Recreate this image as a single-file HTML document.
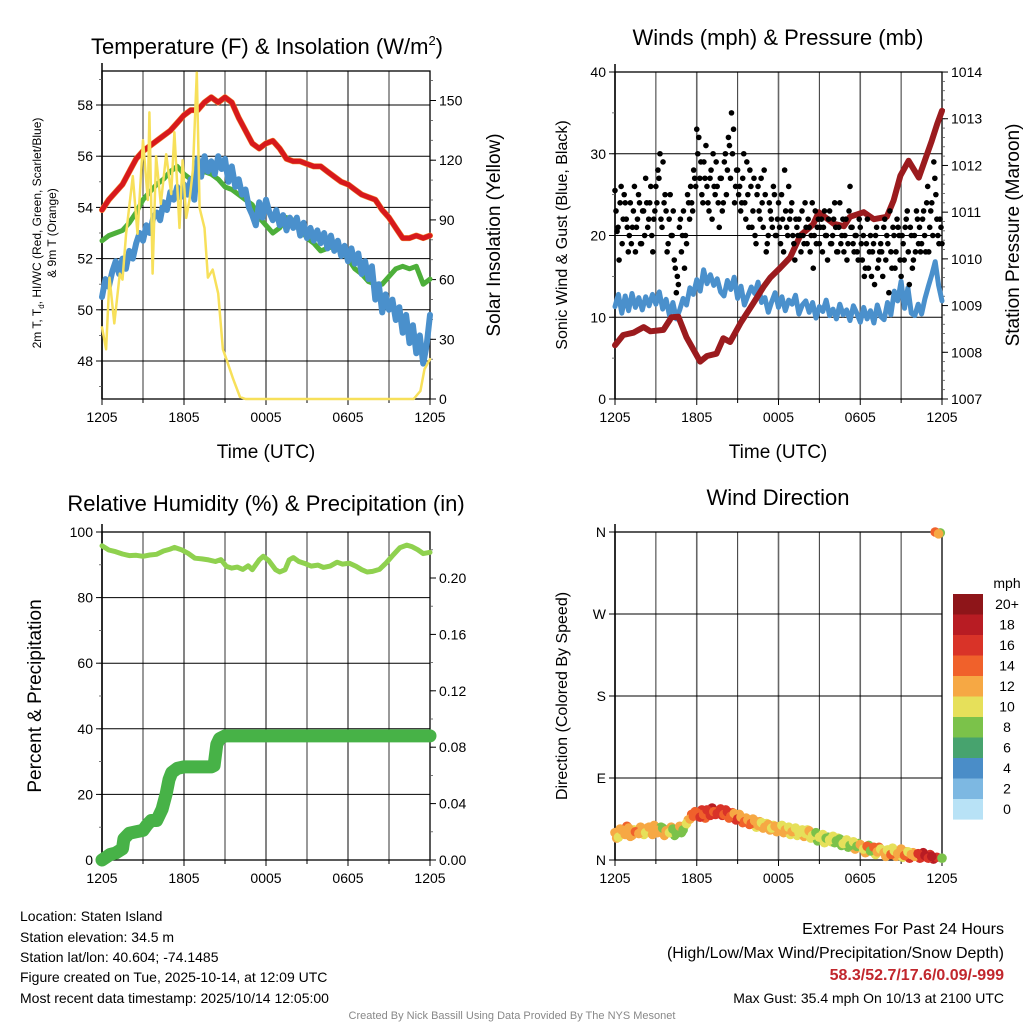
<!DOCTYPE html>
<html><head><meta charset="utf-8"><style>
body{margin:0;background:#fff;}
svg{display:block;font-family:"Liberation Sans",sans-serif;}
</style></head><body>
<svg id="s" width="1024" height="1024" xmlns="http://www.w3.org/2000/svg">
<g id="g"></g>
<g fill="#000">
<text x="267" y="54" font-size="22" text-anchor="middle">Temperature (F) &amp; Insolation (W/m<tspan font-size="13" dy="-9">2</tspan><tspan dy="9">)</tspan></text>
<text x="778" y="45" font-size="22" text-anchor="middle">Winds (mph) &amp; Pressure (mb)</text>
<text x="266" y="511" font-size="22" text-anchor="middle">Relative Humidity (%) &amp; Precipitation (in)</text>
<text x="778" y="505" font-size="22" text-anchor="middle">Wind Direction</text>
<text x="266" y="458" font-size="19" text-anchor="middle">Time (UTC)</text>
<text x="778" y="458" font-size="19" text-anchor="middle">Time (UTC)</text>
<text transform="translate(41,233) rotate(-90)" font-size="12" text-anchor="middle">2m T, T<tspan font-size="8" dy="3">d</tspan><tspan dy="-3">, HI/WC (Red, Green, Scarlet/Blue)</tspan></text>
<text transform="translate(56,233) rotate(-90)" font-size="12" text-anchor="middle">&amp; 9m T (Orange)</text>
<text transform="translate(500,235) rotate(-90)" font-size="19" text-anchor="middle">Solar Insolation (Yellow)</text>
<text transform="translate(567,235) rotate(-90)" font-size="16" text-anchor="middle">Sonic Wind &amp; Gust (Blue, Black)</text>
<text transform="translate(1019,235) rotate(-90)" font-size="19" text-anchor="middle">Station Pressure (Maroon)</text>
<text transform="translate(41,696) rotate(-90)" font-size="19" text-anchor="middle">Percent &amp; Precipitation</text>
<text transform="translate(567,696) rotate(-90)" font-size="16" text-anchor="middle">Direction (Colored By Speed)</text>
</g>
<g font-size="14" fill="#000">
<text x="20" y="921">Location: Staten Island</text>
<text x="20" y="942">Station elevation: 34.5 m</text>
<text x="20" y="962">Station lat/lon: 40.604; -74.1485</text>
<text x="20" y="982">Figure created on Tue, 2025-10-14, at 12:09 UTC</text>
<text x="20" y="1003">Most recent data timestamp: 2025/10/14 12:05:00</text>
</g>
<g text-anchor="end">
<text x="1004" y="934" font-size="16">Extremes For Past 24 Hours</text>
<text x="1004" y="958" font-size="16">(High/Low/Max Wind/Precipitation/Snow Depth)</text>
<text x="1004" y="980" font-size="16" font-weight="bold" fill="#c1272d">58.3/52.7/17.6/0.09/-999</text>
<text x="1004" y="1003" font-size="14">Max Gust: 35.4 mph On 10/13 at 2100 UTC</text>
</g>
<text x="512" y="1019" font-size="11" fill="#888" text-anchor="middle">Created By Nick Bassill Using Data Provided By The NYS Mesonet</text>
</svg>
<script>
const xLabels=["1205","1805","0005","0605","1205"];
const redT=[53.9,54.3,54.6,54.9,55.4,55.9,56.2,56.4,56.6,56.8,57.0,57.3,57.6,57.8,57.8,58.1,58.3,58.1,58.3,58.1,57.5,57.0,56.5,56.3,56.5,56.6,56.3,55.9,55.8,55.8,55.7,55.6,55.6,55.4,55.2,55.0,54.9,54.7,54.5,54.4,54.3,53.9,53.6,53.2,52.8,52.8,52.9,52.8,52.9];
const greenT=[52.7,52.9,53.0,53.1,53.4,53.8,54.3,54.6,54.9,55.1,55.4,55.6,55.3,55.1,55.2,55.4,55.3,55.1,54.8,54.7,54.5,54.3,54.1,53.6,53.3,53.0,53.2,53.6,53.5,53.2,52.8,52.6,52.3,52.4,52.5,52.3,52.0,51.6,51.4,51.1,51.0,51.0,51.3,51.6,51.7,51.6,51.7,51.0,51.2];
const blueT=[50.5,51.2,50.9,51.5,51.9,51.4,52.0,51.6,52.3,52.0,52.6,53.0,52.7,53.3,53.0,53.6,53.8,53.5,54.2,53.9,54.6,54.3,54.8,54.4,54.9,54.5,55.1,54.3,55.9,55.2,56.0,55.4,55.8,55.3,56.0,55.5,55.9,55.0,55.6,54.8,55.1,54.5,54.7,54.0,53.7,53.3,54.2,53.6,54.3,53.8,53.5,53.9,53.3,53.7,53.1,53.6,53.2,53.6,52.9,53.4,52.8,53.2,52.7,53.1,52.6,53.0,52.4,52.9,52.3,52.7,52.1,52.5,51.9,52.4,51.8,52.2,51.4,51.9,51.2,51.7,50.4,51.0,49.9,50.6,50.0,50.4,49.6,50.1,49.1,49.8,48.7,49.4,48.3,49.0,47.9,48.6,49.8];
const solarHours=[0,0.3,0.55,0.9,1.3,1.5,1.76,2.25,2.6,3.0,3.35,3.47,3.7,3.96,4.3,4.7,5.06,5.3,5.67,5.9,6.16,6.4,6.65,6.94,7.14,7.5,7.75,8.1,8.5,8.85,9.1,9.6,10.1,10.5,22.8,23.3,23.6,24];
const solarVals=[36,25,61,38,63,60,83,112,83,130,100,144,63,122,98,123,103,134,86,120,91,100,115,164,96,86,61,65,53,25,20,10,1,0,0,4,15,20];
const windVals=[11.3,12.8,10.5,12.6,10.8,12.9,11.2,12.4,10.9,12.5,11.4,12.8,11.6,13.1,11.0,12.2,10.2,11.8,9.8,10.9,12.3,11.5,13.6,12.8,14.6,13.2,15.8,14.1,15.2,13.9,14.7,13.1,12.6,14.5,13.4,14.9,12.3,13.8,11.5,12.6,13.7,12.9,14.3,11.8,12.4,10.6,11.9,13.0,11.2,12.5,10.8,12.1,11.6,12.7,10.4,11.5,12.0,10.6,11.8,9.9,11.3,10.7,12.1,10.2,11.0,9.8,11.6,10.3,10.9,9.6,11.4,10.5,9.4,11.2,9.8,10.8,9.3,11.5,10.1,9.7,11.8,10.3,13.2,12.0,14.4,11.1,13.6,10.5,10.2,11.6,10.4,12.3,13.8,15.2,16.8,13.9,12.0];
const gustA=[25.5,20.5,17,26,22,24,21,20,19,23,18,22,24,19,23,27,21,24,20,22,26,28,30,21,24,23,19,25,20,17,13,14,22,20,16,19,24,26,23,27,33,32,29,24,27,26,23,28,30,25,26,21,27,24,30,28,31,35,33,26,28,26,24,30,22,25,28,21,27,19,26,22,24,28,18,20,23,21,25,20,24,19,22,28,21,26,23,20,17,21,22,18,20,24,19,21,20,16,23,21,19,22,21,20,17,23,19,22,21,18,24,20,18,22,19,26,21,18,20,17,21,17,15,19,16,20,18,14,21,17,19,15,22,20,13,18,21,16,22,20,15,19,21,23,14,20,17,18,22,21,19,23,18,26,21,24,29,25,20,22,19];
const gustB=[23,21,24,19,25,22,18,24,21,26,21,25,19,23,20,24,22,26,18,23,24,27,22,29,25,18,22,20,23,16,15,21,18,23,20,25,22,24,28,26,30,27,25,29,31,24,27,22,26,29,24,27,23,29,25,32,27,30,24,28,25,23,27,24,29,21,26,23,20,25,23,27,21,25,19,24,22,26,20,22,21,25,18,23,20,22,24,19,22,20,20,23,19,21,22,18,24,20,19,22,21,18,23,20,22,19,20,24,18,21,19,22,20,17,23,21,19,20,18,22,19,20,16,22,18,15,19,20,16,18,18,21,17,19,23,16,20,18,21,17,20,17,22,18,21,16,20,23,19,18,22,20,24,18,23,20,27,22,19,21];
const presHours=[0,0.6,1.35,2.1,2.6,3.55,4.15,4.65,5.25,6.25,6.75,7.45,7.95,8.45,9.2,10.15,10.9,11.4,12.1,12.85,13.6,14.55,14.95,16.05,16.8,17.25,18.25,19.0,19.95,20.45,20.95,21.55,22.3,22.8,23.25,23.65,24];
const presVals=[1008.15,1008.37,1008.42,1008.54,1008.45,1008.48,1008.75,1008.76,1008.32,1007.8,1007.92,1007.97,1008.3,1008.22,1008.62,1009.05,1009.4,1009.6,1009.8,1010.03,1010.5,1010.74,1011.0,1010.75,1010.7,1010.9,1011.0,1010.85,1010.9,1011.25,1011.78,1012.1,1011.74,1012.16,1012.53,1012.89,1013.17];
const rhHours=[0,0.5,1,1.5,2,2.5,3,3.5,4,4.5,5,5.3,5.8,6.3,6.8,7.3,7.8,8.3,8.7,9.1,9.5,9.9,10.3,10.7,11.0,11.5,11.8,12.2,12.7,13.0,13.4,13.7,14.0,14.4,14.9,15.3,15.8,16.2,16.7,17.2,17.6,18.1,18.6,19.0,19.4,19.8,20.3,20.8,21.3,21.8,22.3,22.7,23.1,23.5,24];
const rhVals=[95.8,94.5,94,93.3,92.8,92.9,92.6,93.0,93.2,94.2,94.8,95.3,94.6,93.5,92.0,91.8,91.5,91.0,91.6,89.5,89.0,89.3,88.6,89.7,88.5,91.5,92.6,91.3,88.5,87.8,88.5,91.5,92.2,91.0,90.3,89.6,89.9,89.2,89.6,90.8,90.2,90.5,89.5,88.5,87.8,88.0,88.6,90.6,93.0,95.2,96.0,95.5,94.6,93.4,93.8];
const precipHours=[0,0.3,0.6,1.0,1.5,1.6,2.0,2.5,3.0,3.3,3.6,4.0,4.4,4.7,4.9,5.1,5.5,6.0,7.0,8.0,8.2,8.4,8.6,9.0,24];
const precipVals=[0,0.002,0.004,0.005,0.008,0.015,0.019,0.020,0.021,0.025,0.028,0.028,0.036,0.047,0.057,0.062,0.065,0.066,0.066,0.066,0.067,0.082,0.086,0.088,0.088];
const dirVals=[30,25,33,28,35,27,31,29,34,30,36,28,33,31,35,32,30,34,29,37,33,40,45,48,52,47,50,55,49,53,51,56,50,53,48,51,45,47,42,44,40,43,38,41,36,39,35,37,34,38,33,36,31,35,30,33,29,32,27,30,25,28,24,22,26,21,23,18,22,16,20,15,17,12,15,10,14,9,12,8,11,6,10,7,12,5,9,6,4,7,3,5,2,4,360,358,2];
const spdVals=[12,11,12,13,12,12,15,12,12,11,12,12,13,12,9,12,10,8,8,12,9,11,13,14,15,16,14,17,16,15,17,16,15,16,14,13,16,13,15,13,14,12,13,11,12,13,10,12,12,10,12,11,12,10,11,10,11,12,10,9,11,10,8,10,10,9,8,10,11,8,10,9,12,10,14,9,15,12,10,13,11,14,10,13,12,15,10,12,13,16,17,18,17,18,14,12,9];
const dirValsB=[24,34,29,37,26,33,30,36,28,35,31,38,30,36,27,33,36,27,33,30,38,44,50,53,48,55,46,52,57,50,54,49,55,46,52,44,50,41,46,39,45,36,42,35,40,33,38,31,37,30,35,28,33,27,31,26,33,24,29,21,27,19,25,20,19,24,16,21,14,19,12,18,13,8,16,11,6,14,10,4,8,13,4,10,3,9,2,8,6,2,8,3,6,1,3,359];
const spdValsB=[13,12,11,14,12,10,12,13,11,12,9,12,12,8,12,11,12,9,10,8,11,12,14,15,16,17,15,14,18,16,15,17,16,14,15,16,13,14,12,14,13,11,12,12,10,12,11,12,11,12,10,11,12,11,10,12,10,11,12,8,10,11,9,10,9,10,8,11,9,10,12,9,11,13,9,12,10,14,11,12,13,10,12,15,11,13,16,12,15,17,18,16,17,19,16,9];
const cbLabels=["20+","18","16","14","12","10","8","6","4","2","0"];
const cbColors=["#8e1519","#b81c23","#d93328","#f0612b","#f6a844","#e6e05a","#7bc24a","#47a36e","#4a8dc8","#7db8e2","#b8e2f6"];
const tempTicks=[48,50,52,54,56,58],solarTicks=[0,30,60,90,120,150],windTicks=[0,10,20,30,40],presTicks=[1007,1008,1009,1010,1011,1012,1013,1014],rhTicks=[0,20,40,60,80,100],prTicks=["0.00","0.04","0.08","0.12","0.16","0.20"],dirTicks=["N","E","S","W","N"];

const NS="http://www.w3.org/2000/svg";
const G=document.getElementById('g');
function mk(t,a,p){const e=document.createElementNS(NS,t);for(const k in a)e.setAttribute(k,a[k]);(p||G).appendChild(e);return e;}
function panel(x0,x1,y0,y1){return{x0,x1,y0,y1,x:h=>x0+h*(x1-x0)/24};}
const P1=panel(102,430,71,399),P2=panel(615,942,72,399),P3=panel(102,430,532,860),P4=panel(615,942,532,860);
const yT=v=>105+(58-v)*25.6, yS=v=>399-v*1.99, yW=v=>399-v*8.175, yP=v=>399-(v-1007)*46.71;
const yR=v=>860-v*3.28, yPr=v=>860-v*1410, yD=v=>860-v*0.9111;

function frame(P,hy,name){
  const g=mk('g',{});
  
  
  for(let i=1;i<8;i++){const x=P.x(i*3);mk('line',{x1:x,x2:x,y1:P.y0,y2:P.y1,stroke:i%2?'#333':'#666','stroke-width':i%2?1:1.6},g);}
  hy.forEach(y=>mk('line',{x1:P.x0,x2:P.x1,y1:y,y2:y,stroke:'#000','stroke-width':1},g));
  mk('rect',{x:P.x0,y:P.y0,width:P.x1-P.x0,height:P.y1-P.y0,fill:'none',stroke:'#000','stroke-width':1.3},g);
  mk('line',{x1:P.x0,x2:P.x0,y1:P.y0-8,y2:P.y1,stroke:'#000','stroke-width':1.5},g);
  for(let i=0;i<=8;i++){const x=P.x(i*3);mk('line',{x1:x,x2:x,y1:P.y1,y2:P.y1+(i%2?4:6),stroke:'#000'},g);}
  xLabels.forEach((s,i)=>{const t=mk('text',{x:P.x(i*6),y:P.y1+23,'font-size':14,'text-anchor':'middle'},g);t.textContent=s;
    
    });
}
function yTicks(vals,fy,x,side,lab){
  vals.forEach(v=>{const y=fy(typeof v==='string'?parseFloat(v):v);
    mk('line',{x1:x,x2:x+(side<0?-6:6),y1:y,y2:y,stroke:'#000'});
    const t=mk('text',{x:x+(side<0?-9:9),y:y+5,'font-size':14,'text-anchor':side<0?'end':'start'});t.textContent=lab?lab(v):v;
    
    });
}
function minor(from,to,step,fy,x,side){for(let v=from;v<=to+1e-9;v+=step){const y=fy(v);mk('line',{x1:x,x2:x+side*3,y1:y,y2:y,stroke:'#555','stroke-width':0.8});}}
function line(hrs,vals,P,fy,col,w,name){
  const pts=vals.map((v,i)=>P.x(hrs[i]).toFixed(1)+','+fy(v).toFixed(1)).join(' ');
  const e=mk('polyline',{points:pts,fill:'none',stroke:col,'stroke-width':w,'stroke-linejoin':'round','stroke-linecap':'round'});
  
  
  return e;
}
const step=(n)=>Array.from({length:n},(_,i)=>i*24/(n-1));

// Panel 1
frame(P1,[56,54,52,50,48,58].map(yT),'temp');
minor(47,59,1,yT,P1.x0,-1);minor(0,160,10,yS,P1.x1,1);
yTicks(tempTicks,yT,P1.x0,-1);yTicks(solarTicks,yS,P1.x1,1);
line(step(redT.length),redT,P1,yT,'#f28b30',6,'orange-9m-temp-line');
line(step(redT.length),redT,P1,yT,'#d7191c',5,'red-temp-line');
line(step(greenT.length),greenT,P1,yT,'#4daf3a',5,'green-dewpoint-line');
line(step(blueT.length),blueT,P1,yT,'#4a90cc',6,'blue-windchill-line');
line(solarHours,solarVals,P1,yS,'#f7e05a',2.5,'yellow-solar-line');

// Panel 2
frame(P2,[10,20,30].map(yW),'winds');
minor(0,40,5,yW,P2.x0,-1);minor(1007,1014,0.2,yP,P2.x1,1);
yTicks(windTicks,yW,P2.x0,-1);yTicks(presTicks,yP,P2.x1,1);
line(step(windVals.length),windVals,P2,yW,'#4a90cc',5,'sonic-wind-line');
line(presHours,presVals,P2,yP,'#9b1b1e',6,'pressure-line');
gustA.forEach((v,i)=>{const c=mk('circle',{cx:P2.x(i*0.15),cy:yW(v),r:2.8,fill:'#000'});
  
  });
gustB.forEach((v,i)=>{const c=mk('circle',{cx:P2.x(0.075+i*0.15),cy:yW(v),r:2.8,fill:'#000'});
  
  });

// Panel 3
frame(P3,[20,40,60,80].map(yR),'humidity');
minor(0,100,10,yR,P3.x0,-1);minor(0,0.23,0.02,yPr,P3.x1,1);
yTicks(rhTicks,yR,P3.x0,-1);yTicks(prTicks,yPr,P3.x1,1);
line(rhHours,rhVals,P3,yR,'#8fd14f',5,'humidity-line');
line(precipHours,precipVals,P3,yPr,'#47b247',13,'precip-line');

// Panel 4
frame(P4,[90,180,270].map(yD),'direction');
yTicks([0,90,180,270,360],yD,P4.x0,-1,v=>dirTicks[v/90]);
dirValsB.forEach((d,i)=>{const b=Math.min(10,Math.floor(spdValsB[i]/2));
  const c=mk('circle',{cx:P4.x(0.125+i*0.25),cy:yD(d),r:4.8,fill:cbColors[10-b]});
  
  });
dirVals.forEach((d,i)=>{const b=Math.min(10,Math.floor(spdVals[i]/2));
  const c=mk('circle',{cx:P4.x(i*0.25),cy:yD(d),r:4.8,fill:cbColors[10-b]});
  
  });

// Colorbar
const cb=mk('g',{});


const t0=mk('text',{x:1007,y:588,'font-size':14,'text-anchor':'middle'},cb);t0.textContent='mph';
cbColors.forEach((c,i)=>{mk('rect',{x:953,y:594+i*20.5,width:30,height:20.6,fill:c},cb);
  const t=mk('text',{x:1007,y:609+i*20.5,'font-size':14,'text-anchor':'middle'},cb);t.textContent=cbLabels[i];});
</script>
</body></html>
